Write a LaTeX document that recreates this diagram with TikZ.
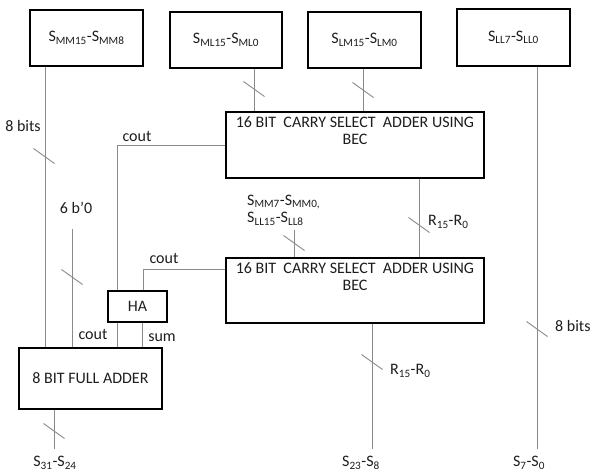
\documentclass[tikz,border=0pt]{standalone}
\usepackage{fontspec}
\setmainfont{Carlito}
\usetikzlibrary{positioning}
\definecolor{wiregray}{HTML}{8A8A8A}
\definecolor{txt}{HTML}{1E1E1E}
\tikzset{
  blk/.style={draw=black, line width=1.4pt, inner sep=0pt, text=txt},
  wire/.style={draw=wiregray, line width=0.9pt},
  lbl/.style={text=txt, inner sep=0pt},
}
\newcommand{\tk}[2]{\draw[wire] (#1,#2) ++(-10.5,-7.5) -- ++(21,15);}
\newcommand{\sub}[1]{\textsubscript{#1}}
\begin{document}
\begin{tikzpicture}[x=1pt,y=-1pt,font=\fontsize{16}{17.5}\selectfont]
\useasboundingbox[fill=white] (0,0) rectangle (592,472);
% top boxes
\node[blk, minimum width=113pt, minimum height=56pt] (b1) at (86.5,38) {S\sub{MM15}-S\sub{MM8}};
\node[blk, minimum width=112pt, minimum height=56pt] (b2) at (226,40) {S\sub{ML15}-S\sub{ML0}};
\node[blk, minimum width=113pt, minimum height=56pt] (b3) at (364.5,40) {S\sub{LM15}-S\sub{LM0}};
\node[blk, minimum width=113pt, minimum height=57pt] (b4) at (513.5,37.5) {S\sub{LL7}-S\sub{LL0}};
% CSA boxes
\node[blk, minimum width=258pt, minimum height=66pt] (csa1) at (355,145) {};
\node[lbl, align=center, anchor=north] at ([yshift=-5pt]csa1.north) {16 BIT\ \ CARRY SELECT\ \ ADDER USING\\BEC};
\node[blk, minimum width=258pt, minimum height=65pt] (csa2) at (355,290.5) {};
\node[lbl, align=center, anchor=north] at ([yshift=-5pt]csa2.north) {16 BIT\ \ CARRY SELECT\ \ ADDER USING\\BEC};
% HA and FA
\node[blk, minimum width=59pt, minimum height=31pt] (ha) at (137.5,306.5) {HA};
\node[blk, minimum width=143pt, minimum height=61pt] (fa) at (90.5,378.5) {8 BIT FULL ADDER};
% free ends
\coordinate (z6) at (72,229);
\coordinate (zmm) at (294,230);
\coordinate (o1) at (54,449);
\coordinate (o2) at (372,449);
\coordinate (o3) at (537,449);
% wires
\draw[wire] (b1.south -| 45,0) -- (fa.north -| 45,0);
\draw[wire] (b2.south -| 254,0) -- (csa1.north -| 254,0);
\draw[wire] (b3.south -| 363,0) -- (csa1.north -| 363,0);
\draw[wire] (b4.south -| o3) -- (o3);
\draw[wire] (csa1.south -| 419,0) -- (csa2.north -| 419,0);
\draw[wire] (zmm) -- (csa2.north -| zmm);
\draw[wire] (z6) -- (fa.north -| z6);
\draw[wire] (csa1.west |- 0,145) -| (ha.north -| 117,0);
\draw[wire] (csa2.west |- 0,269) -| (ha.north -| 143,0);
\draw[wire] (ha.south -| 117,0) -- (fa.north -| 117,0);
\draw[wire] (ha.south -| 142,0) -- (fa.north -| 142,0);
\draw[wire] (fa.south -| o1) -- (o1);
\draw[wire] (csa2.south -| o2) -- (o2);
% ticks
\tk{44}{156}
\tk{254}{89}
\tk{363}{90}
\tk{72}{277}
\tk{294}{243}
\tk{419}{225}
\tk{54}{431}
\tk{372}{362}
\tk{537}{329}
% labels
\node[lbl] (l8a) at (23,126) {8 bits};
\node[lbl] (lc1) at (137,136) {cout};
\node[lbl] (l6) at (76,208) {6 b’0};
\node[lbl] (lc2) at (164,258) {cout};
\node[lbl, align=left, anchor=west] (lmm) at (247,210) {S\sub{MM7}-S\sub{MM0,}\\S\sub{LL15}-S\sub{LL8}};
\node[lbl, anchor=west] (lr1) at (428,222) {R\sub{15}-R\sub{0}};
\node[lbl] (lc3) at (93,334) {cout};
\node[lbl] (lsum) at (162,338) {sum};
\node[lbl, anchor=west] (lr2) at (390,371) {R\sub{15}-R\sub{0}};
\node[lbl, anchor=west] (l8b) at (555,326) {8 bits};
\node[lbl] (s1) at (55,463) {S\sub{31}-S\sub{24}};
\node[lbl] (s2) at (361,463) {S\sub{23}-S\sub{8}};
\node[lbl] (s3) at (529,463) {S\sub{7}-S\sub{0}};
\end{tikzpicture}
\end{document}
